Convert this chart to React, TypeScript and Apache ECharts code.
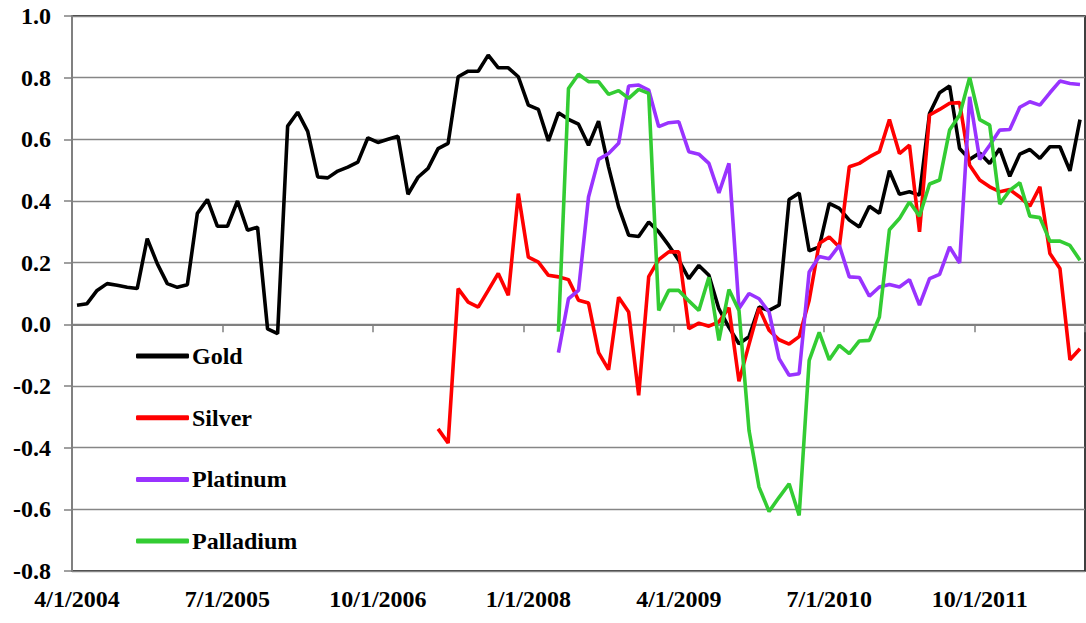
import React, { useEffect, useRef } from "react";
import * as echarts from "echarts";

// Monthly categories: 4/1/2004 .. 8/1/2012 (101 months)
const categories: string[] = [];
for (let k = 0; k < 101; k++) {
  const m = ((3 + k) % 12) + 1;
  const y = 2004 + Math.floor((3 + k) / 12);
  categories.push(`${m}/1/${y}`);
}

const yTicks = [-0.8, -0.6, -0.4, -0.2, 0.0, 0.2, 0.4, 0.6, 0.8, 1.0];

const gold = [
  0.062, 0.067, 0.11, 0.132, 0.127, 0.12, 0.116, 0.278, 0.197, 0.132,
  0.12, 0.128, 0.36, 0.405, 0.318, 0.318, 0.4, 0.305, 0.315, -0.015,
  -0.03, 0.643, 0.688, 0.626, 0.478, 0.475, 0.497, 0.51, 0.526, 0.605,
  0.59, 0.6, 0.61, 0.422, 0.477, 0.506, 0.57, 0.587, 0.803, 0.821,
  0.821, 0.873, 0.832, 0.832, 0.803, 0.711, 0.697, 0.595, 0.686, 0.665,
  0.649, 0.581, 0.659, 0.51, 0.381, 0.289, 0.285, 0.332, 0.3, 0.256,
  0.208, 0.148, 0.191, 0.159, 0.05, -0.01, -0.063, -0.04, 0.056, 0.045,
  0.062, 0.405, 0.426, 0.238, 0.251, 0.392, 0.376, 0.338, 0.316, 0.383,
  0.36, 0.498, 0.422, 0.43, 0.419, 0.684, 0.751, 0.773, 0.57, 0.535,
  0.556, 0.522, 0.57, 0.48, 0.552, 0.567, 0.538, 0.576, 0.576, 0.498,
  0.664,
];

const silverStart = 36;
const silver = [
  -0.339, -0.385, 0.116, 0.072, 0.056, 0.11, 0.165, 0.094, 0.424, 0.218,
  0.202, 0.159, 0.154, 0.145, 0.078, 0.069, -0.092, -0.147, 0.088, 0.04,
  -0.23, 0.155, 0.21, 0.235, 0.235, -0.014, 0.004, -0.006, 0.008, 0.054,
  -0.185, -0.065, 0.053, -0.019, -0.05, -0.064, -0.04, 0.078, 0.262, 0.283,
  0.251, 0.511, 0.522, 0.543, 0.56, 0.664, 0.554, 0.581, 0.3, 0.679,
  0.697, 0.717, 0.719, 0.516, 0.468, 0.446, 0.43, 0.437, 0.413, 0.383,
  0.446, 0.23, 0.181, -0.115, -0.079,
];

const platinumStart = 48;
const platinum = [
  -0.092, 0.083, 0.11, 0.413, 0.535, 0.554, 0.587, 0.773, 0.776, 0.76,
  0.641, 0.654, 0.657, 0.56, 0.552, 0.522, 0.426, 0.522, 0.051, 0.1,
  0.083, 0.04, -0.111, -0.165, -0.16, 0.17, 0.22, 0.213, 0.256, 0.154,
  0.152, 0.091, 0.121, 0.129, 0.121, 0.145, 0.062, 0.148, 0.162, 0.251,
  0.199, 0.738, 0.535, 0.581, 0.63, 0.632, 0.704, 0.722, 0.711, 0.751,
  0.789, 0.781, 0.778,
];

const palladiumStart = 48;
const palladium = [
  -0.024, 0.765, 0.811, 0.787, 0.787, 0.746, 0.758, 0.733, 0.762, 0.749,
  0.045, 0.11, 0.11, 0.076, 0.045, 0.153, -0.052, 0.113, 0.045, -0.344,
  -0.528, -0.607, -0.561, -0.517, -0.62, -0.117, -0.026, -0.115, -0.068, -0.095,
  -0.054, -0.052, 0.024, 0.307, 0.343, 0.397, 0.351, 0.455, 0.468, 0.63,
  0.679, 0.801, 0.664, 0.646, 0.39, 0.435, 0.459, 0.351, 0.346, 0.27,
  0.27, 0.256, 0.208,
];

const seriesNames = ["Gold", "Silver", "Platinum", "Palladium"];
const seriesColors = ["#000000", "#FF0000", "#9933FF", "#33CC33"];

function pad(start: number, values: number[]): (number | null)[] {
  const out: (number | null)[] = [];
  for (let k = 0; k < start; k++) out.push(null);
  return out.concat(values);
}

const FONT = "Liberation Serif";

export default function App() {
  const ref = useRef<HTMLDivElement>(null);

  useEffect(() => {
    if (!ref.current) return;
    const chart = echarts.init(ref.current, undefined, { renderer: "svg" });
    const dataSets = [
      gold,
      pad(silverStart, silver),
      pad(platinumStart, platinum),
      pad(palladiumStart, palladium),
    ];
    chart.setOption({
      animation: false,
      backgroundColor: "#ffffff",
      textStyle: { fontFamily: FONT },
      grid: {
        left: 72,
        right: 1,
        top: 16,
        bottom: 52,
        show: true,
        borderColor: "#000000",
        borderWidth: 1.5,
        containLabel: false,
      },
      legend: {
        orient: "vertical",
        left: 136,
        top: 344,
        padding: 0,
        itemWidth: 53,
        itemHeight: 5,
        itemGap: 37.7,
        icon: "roundRect",
        data: seriesNames,
        textStyle: {
          fontFamily: FONT,
          fontWeight: "bold",
          fontSize: 24,
          color: "#000",
          lineHeight: 24,
          padding: [0, 0, 0, -2],
        },
      },
      xAxis: [
        {
          type: "category",
          data: categories,
          boundaryGap: true,
          axisLine: { show: true, onZero: true, lineStyle: { color: "#808080", width: 2 } },
          axisTick: { show: true, interval: 14, length: 8, lineStyle: { color: "#808080", width: 1.5 } },
          axisLabel: { show: false },
          splitLine: { show: false },
        },
        {
          type: "category",
          data: categories,
          boundaryGap: true,
          position: "bottom",
          axisLine: { show: false, onZero: false },
          axisTick: { show: false },
          axisLabel: {
            show: true,
            interval: 14,
            margin: 16,
            fontFamily: FONT,
            fontWeight: "bold",
            fontSize: 24,
            color: "#000",
          },
          splitLine: { show: false },
        },
      ],
      yAxis: {
        type: "value",
        min: yTicks[0],
        max: yTicks[yTicks.length - 1],
        interval: 0.2,
        axisLine: { show: true, lineStyle: { color: "#808080", width: 2 } },
        axisTick: { show: true, length: 8, lineStyle: { color: "#808080", width: 1.5 } },
        axisLabel: {
          margin: 21,
          fontFamily: FONT,
          fontWeight: "bold",
          fontSize: 24,
          color: "#000",
          formatter: (v: number) => v.toFixed(1),
        },
        splitLine: { show: true, lineStyle: { color: "#868686", width: 1.4 } },
      },
      series: seriesNames.map((name, idx) => ({
        name,
        type: "line",
        xAxisIndex: 0,
        data: dataSets[idx],
        symbol: "none",
        showSymbol: false,
        connectNulls: false,
        lineStyle: { color: seriesColors[idx], width: 3.6 },
        itemStyle: { color: seriesColors[idx] },
      })),
    });
    return () => chart.dispose();
  }, []);

  return (
    <div
      ref={ref}
      style={{ position: "fixed", left: 0, top: 0, width: 1086, height: 623, background: "#fff" }}
    />
  );
}
